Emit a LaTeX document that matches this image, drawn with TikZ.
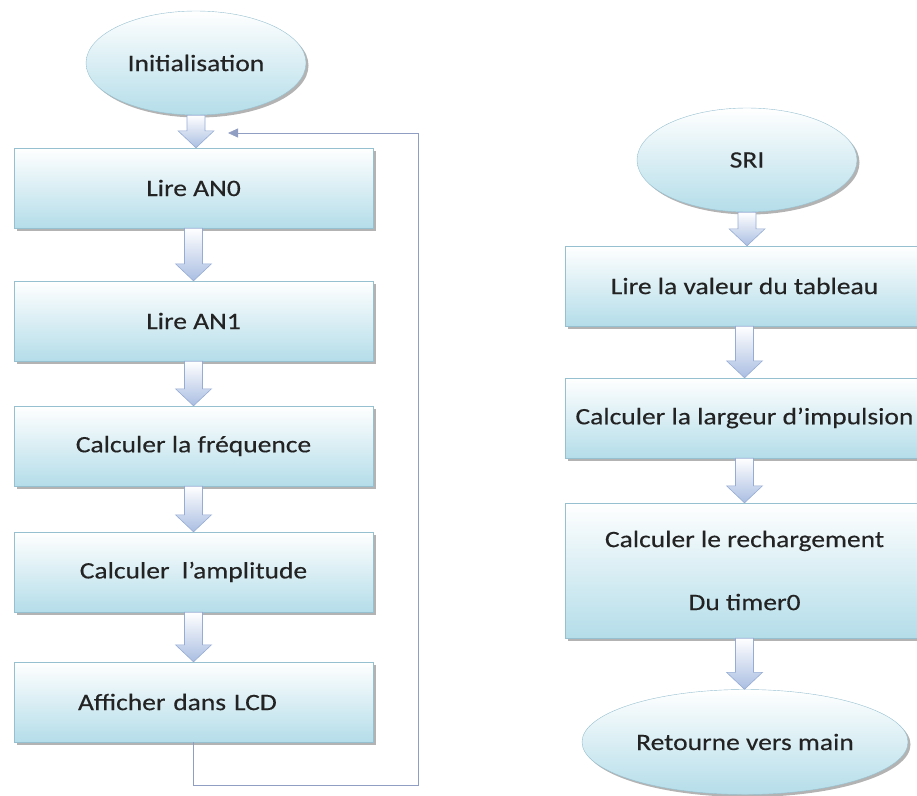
\documentclass[tikz,border=0pt]{standalone}
\usepackage{fontspec}
\setmainfont{Carlito}[FakeStretch=1.17, FakeBold=0.35]
\usetikzlibrary{positioning, calc, arrows.meta, shadows, shapes.geometric}

\definecolor{boxblue}{RGB}{180,221,233}
\definecolor{boxedge}{RGB}{150,192,208}
\definecolor{arrowblue}{RGB}{170,190,226}
\definecolor{arrowedge}{RGB}{150,172,212}
\definecolor{loopline}{RGB}{145,158,195}
\definecolor{texte}{RGB}{35,35,35}

\tikzset{
    boite/.style={rectangle, draw=boxedge, top color=white, bottom color=boxblue,
        minimum width=359pt, minimum height=80pt, inner sep=0pt, text=texte,
        font=\fontsize{23.5}{28}\selectfont,
        drop shadow={shadow xshift=2.5pt, shadow yshift=-2.5pt, fill=gray, opacity=0.6}},
    terminal/.style={boite, ellipse, minimum width=220pt, minimum height=104pt},
    flechebloc/.style={draw=arrowedge, line width=0.6pt, top color=white, bottom color=arrowblue},
    retourligne/.style={draw=loopline, line width=0.8pt}
}

% block arrow between two nodes
\newcommand{\flecheBloc}[2]{%
    \path[flechebloc] let \p1=(#1.south), \p2=(#2.north) in
        (\x1-9pt,\y1) -- (\x1+9pt,\y1) -- (\x1+9pt,\y2+17pt) -- (\x1+18pt,\y2+17pt)
        -- (\x1,\y2) -- (\x1-18pt,\y2+17pt) -- (\x1-9pt,\y2+17pt) -- cycle;}

\begin{document}
\begin{tikzpicture}[x=1pt, y=-1pt, >=stealth]
    \useasboundingbox (0,0) rectangle (917,795);

    % --- Programme principal ---
    \node[terminal] (init) at (196,63) {Initialisation};
    \node[boite] (an0) at (193.5,188) {Lire AN0};
    \node[boite] (an1) at (193.5,321) {Lire AN1};
    \node[boite] (freq) at (193.5,446) {Calculer la fréquence};
    \node[boite] (ampl) at (193.5,572) {Calculer~~l’amplitude};
    \node[boite, text width=359pt, align=left] (lcd) at (193.5,702) {\hspace*{64pt}Afficher dans LCD};

    \flecheBloc{init}{an0}
    \flecheBloc{an0}{an1}
    \flecheBloc{an1}{freq}
    \flecheBloc{freq}{ampl}
    \flecheBloc{ampl}{lcd}

    % boucle de retour
    \coordinate (retour) at (228,133);
    \coordinate (coin) at (418,785);
    \draw[retourligne, -{Triangle[length=10pt, width=9pt]}] (lcd.south) |- (coin) |- (retour);

    % --- Routine d'interruption ---
    \node[terminal] (sri) at (747,160) {SRI};
    \node[boite] (valeur) at (744.5,286) {Lire la valeur du tableau};
    \node[boite] (largeur) at (744.5,418) {Calculer la largeur d’impulsion};
    \node[boite, minimum height=135pt, align=center] (recharge) at (744.5,570.5)
        {Calculer le rechargement\\[35pt]Du timer0};
    \node[terminal, minimum width=326pt, minimum height=105pt] (fin) at (745,742) {Retourne vers main};

    \flecheBloc{sri}{valeur}
    \flecheBloc{valeur}{largeur}
    \flecheBloc{largeur}{recharge}
    \flecheBloc{recharge}{fin}
\end{tikzpicture}
\end{document}
